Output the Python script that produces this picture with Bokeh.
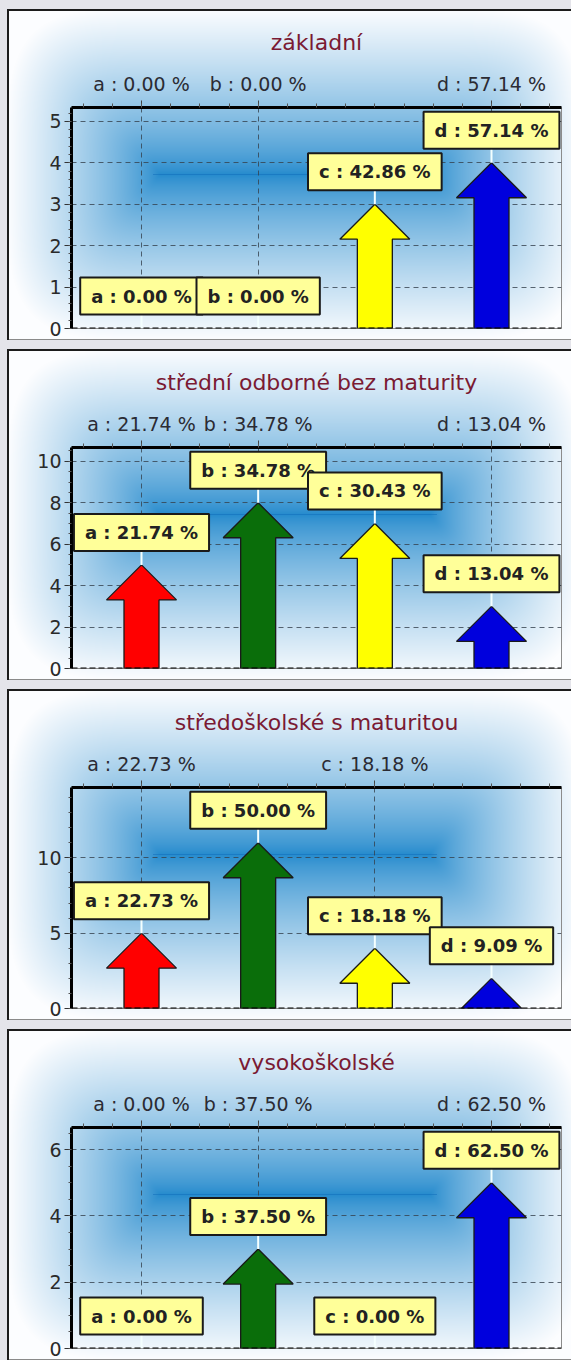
import base64
import struct
import zlib

import numpy as np
from bokeh.embed import file_html
from bokeh.layouts import column
from bokeh.models import (FixedTicker, Grid, Label, LinearAxis, Range1d, Span)
from bokeh.plotting import figure
from bokeh.resources import INLINE

# ---- data -------------------------------------------------------------
categories = ["a", "b", "c", "d"]
panel_titles = [
    "základní",
    "střední odborné bez maturity",
    "středoškolské s maturitou",
    "vysokoškolské",
]
counts_zakladni = [0, 0, 3, 4]
counts_stredni_bez_maturity = [5, 8, 7, 3]
counts_stredoskolske_s_maturitou = [5, 11, 4, 2]
counts_vysokoskolske = [0, 3, 0, 5]
panel_counts = [counts_zakladni, counts_stredni_bez_maturity,
                counts_stredoskolske_s_maturitou, counts_vysokoskolske]

# categories whose label is printed on the top axis of each panel
top_axis_categories = [["a", "b", "d"], ["a", "b", "d"], ["a", "c"], ["a", "b", "d"]]
y_major_step = [1, 2, 5, 2]
y_minor_step = [0.2, 0.5, 1, 0.5]
arrow_colors = ["#ff0000", "#0a6e0a", "#ffff00", "#0000dd"]

# ---- geometry / styling -----------------------------------------------
FIG_W, FIG_H = 564, 331
BORDER_TOP, BORDER_BOTTOM, BORDER_RIGHT = 98, 12, 10
FRAME_H = FIG_H - BORDER_TOP - BORDER_BOTTOM
HEAD_PX = 35          # arrow head height in pixels
LEADER_PX = 14        # gap between arrow tip and its label box
SHAFT_HALF = 0.15
HEAD_HALF = 0.30
FONT = "DejaVu Sans"


def png_data_uri(rgb):
    h, w, _ = rgb.shape
    raw = b"".join(b"\x00" + rgb[i].tobytes() for i in range(h))

    def chunk(tag, data):
        body = tag + data
        return struct.pack(">I", len(data)) + body + struct.pack(">I", zlib.crc32(body) & 0xFFFFFFFF)

    png = (b"\x89PNG\r\n\x1a\n"
           + chunk(b"IHDR", struct.pack(">IIBBBBB", w, h, 8, 2, 0, 0, 0))
           + chunk(b"IDAT", zlib.compress(raw, 9))
           + chunk(b"IEND", b""))
    return "data:image/png;base64," + base64.b64encode(png).decode()


def glow_background(w, h):
    # soft rectangular glow: blue along a central line, white towards the edges
    cx, cy = 288.0, h / 2.0
    hw, hh, fw = 288.0, h / 2.0, 135.0
    yy, xx = np.mgrid[0:h, 0:w].astype(float)
    dx = np.abs(xx + 0.5 - cx)
    dy = np.abs(yy + 0.5 - cy)
    th = np.clip((dx - fw) / (hw - fw), 0, 1)
    tv = np.clip(dy / hh, 0, 1)
    s = np.clip((th ** 4 + tv ** 4) ** 0.25, 0, 1)
    wgt = s ** 0.75
    base = np.array([36, 138, 205], float)
    white = np.array([252, 253, 255], float)
    img = base * (1 - wgt[..., None]) + white * wgt[..., None]
    line = (dy < 1.0) & (dx < fw * 1.05)
    img[line] = img[line] * 0.45 + np.array([18, 112, 188]) * 0.55
    return np.clip(img, 0, 255).astype(np.uint8)


BG_URI = png_data_uri(glow_background(FIG_W, FIG_H))


def make_panel(idx):
    counts = panel_counts[idx]
    total = sum(counts)
    pcts = [c / total * 100 for c in counts]
    labels = [f"{cat} : {p:.2f} %" for cat, p in zip(categories, pcts)]
    xs = list(range(1, len(categories) + 1))
    ymax = max(counts) * 4 / 3
    ppu = FRAME_H / ymax
    left = 64 if idx == 2 else 51

    p = figure(width=FIG_W, height=FIG_H, title=panel_titles[idx],
               x_range=Range1d(0.4, 4.6), y_range=Range1d(0, ymax),
               x_axis_type=None, y_axis_type=None,
               output_backend="svg", toolbar_location=None,
               min_border_left=left, min_border_right=BORDER_RIGHT,
               min_border_top=BORDER_TOP, min_border_bottom=BORDER_BOTTOM,
               margin=(9, 0, 0, 7),
               styles={
                   "background-image": f"url({BG_URI})",
                   "background-size": "100% 100%",
                   "box-shadow": "inset 2px 0 0 #1c1c1c, inset 0 2px 0 #1c1c1c, inset 0 -1px 0 #8a8a8a",
               })
    p.background_fill_alpha = 0
    p.border_fill_alpha = 0
    p.outline_line_color = "#8c8c8c"
    p.outline_line_width = 1

    p.title.align = "center"
    p.title.text_font = FONT
    p.title.text_font_size = "22px"
    p.title.text_font_style = "normal"
    p.title.text_color = "#7a1a33"
    p.title.standoff = 30

    # y axis
    y_ticks = np.arange(0, ymax + 1e-9, y_major_step[idx]).tolist()
    y_minor = np.arange(0, ymax + 1e-9, y_minor_step[idx]).tolist()
    y_ticker = FixedTicker(ticks=y_ticks, minor_ticks=y_minor)
    yaxis = LinearAxis(ticker=y_ticker, axis_line_width=3, axis_line_color="black",
                       major_tick_out=7, major_tick_in=0, minor_tick_out=3, minor_tick_in=0,
                       major_tick_line_color="#333333", minor_tick_line_color="#555555",
                       major_label_standoff=3, major_label_text_font=FONT,
                       major_label_text_font_size="19px", major_label_text_color="#2a2a2a")
    p.add_layout(yaxis, "left")

    # top axis with the category percentages
    shown = [xs[categories.index(c)] for c in top_axis_categories[idx]]
    x_ticker = FixedTicker(ticks=shown, minor_ticks=np.arange(0.5, 4.51, 0.25).tolist())
    xaxis = LinearAxis(ticker=x_ticker, axis_line_width=3, axis_line_color="black",
                       major_tick_out=7, major_tick_in=0, minor_tick_out=4, minor_tick_in=0,
                       major_tick_line_color="#444444", minor_tick_line_color="#555555",
                       major_label_standoff=6, major_label_text_font=FONT,
                       major_label_text_font_size="19px", major_label_text_color="#2b2b33",
                       major_label_overrides={x: labels[x - 1] for x in shown})
    p.add_layout(xaxis, "above")

    grid_style = dict(grid_line_color="#34414e", grid_line_alpha=0.8,
                      grid_line_dash="5 4", grid_line_width=1)
    p.add_layout(Grid(dimension=0, ticker=x_ticker, **grid_style))
    p.add_layout(Grid(dimension=1, ticker=y_ticker, **grid_style))
    p.add_layout(Span(location=0, dimension="width", line_color="black",
                      line_width=2, line_dash="6 3"))

    # arrows
    pxs, pys, cols = [], [], []
    for x, v, col in zip(xs, counts, arrow_colors):
        if v <= 0:
            continue
        head = min(HEAD_PX / ppu, v)
        half = HEAD_HALF * head / (HEAD_PX / ppu)
        if head < v:
            px_ = [x - SHAFT_HALF, x - SHAFT_HALF, x - half, x, x + half, x + SHAFT_HALF, x + SHAFT_HALF]
            py_ = [0, v - head, v - head, v, v - head, v - head, 0]
        else:
            px_ = [x - half, x, x + half]
            py_ = [0, v, 0]
        pxs.append(px_)
        pys.append(py_)
        cols.append(col)
    p.patches(pxs, pys, fill_color=cols, line_color="#1a1a1a", line_width=1.3)

    # leader lines and value boxes
    gap = LEADER_PX / ppu
    p.segment(x0=xs, y0=counts, x1=xs, y1=[c + gap for c in counts],
              line_color="#f4ffff", line_width=2)
    for x, v, text in zip(xs, counts, labels):
        p.add_layout(Label(x=x, y=v + gap, text=text, anchor="bottom_center",
                           text_align="center", text_baseline="bottom",
                           text_font=FONT, text_font_size="18px", text_font_style="bold",
                           text_color="#222222",
                           background_fill_color="#ffff99", background_fill_alpha=1,
                           border_line_color="#1a1a1a", border_line_width=2,
                           padding=dict(left=11, right=11, top=8, bottom=8)))
    return p


panels = [make_panel(i) for i in range(4)]
layout = column(*panels, spacing=0, margin=(0, 0, 1, 0),
                styles={"background-color": "#e4e4ea"})

with open("out.html", "w") as fh:
    fh.write(file_html(layout, INLINE))
